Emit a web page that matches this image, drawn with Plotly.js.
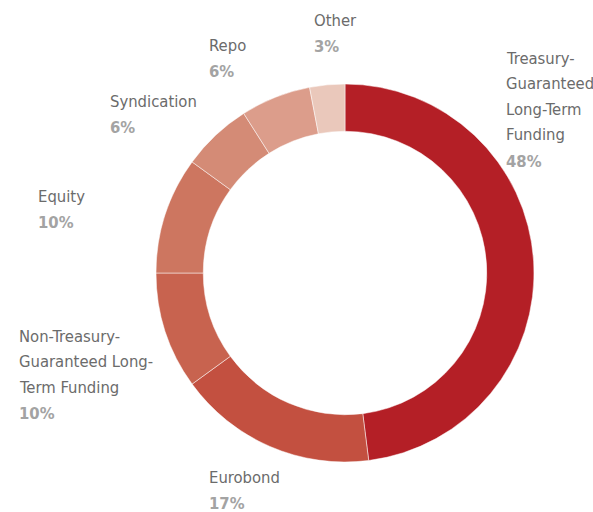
<!DOCTYPE html>
<html>
<head>
<meta charset="utf-8">
<script src="https://cdn.plot.ly/plotly-3.0.1.min.js"></script>
<style>
  html, body { margin: 0; padding: 0; background: #fff; }
  #chart { width: 593px; height: 512px; }
</style>
</head>
<body>
<div id="chart"></div>
<script>
let labels = [
    ["Treasury-", "Guaranteed", "Long-Term", "Funding"],
    ["Eurobond"],
    ["Non-Treasury-", "Guaranteed Long-", "Term Funding"],
    ["Equity"],
    ["Syndication"],
    ["Repo"],
    ["Other"]
];
let values = [48, 17, 10, 10, 6, 6, 3];
let colors = ["#b41f26", "#c35040", "#c8634f", "#cd7660", "#d48b76", "#dc9d8b", "#eac8bb"];

// label positions in pixels (left, centre of first line)
let labelPos = [[504, 58], [207, 477], [17, 336], [36, 196], [108, 101], [207, 45], [312, 20]];

let W = 593, H = 512;
let fnt = '"Liberation Sans Narrow", "DejaVu Sans Condensed", sans-serif';
let lineGap = 25.5, pctGap = 26.5;

let annots = [];
for (let i = 0; i < labels.length; i++) {
    let y = labelPos[i][1];
    let lines = labels[i];
    for (let k = 0; k <= lines.length; k++) {
        let isPct = k == lines.length;
        if (k > 0) y += isPct ? pctGap : lineGap;
        annots.push({
            xref: 'paper', yref: 'paper',
            x: labelPos[i][0] / W,
            y: 1 - y / H,
            xanchor: 'left', yanchor: 'middle', align: 'left',
            showarrow: false,
            text: isPct ? '<b>' + values[i] + '%</b>' : lines[k],
            font: { family: fnt, size: 16.5, color: isPct ? '#a3a3a3' : '#6b6b6b' }
        });
    }
}

let data = [{
    type: 'pie',
    labels: labels.map(l => l.join(' ')),
    values: values,
    sort: false,
    direction: 'clockwise',
    rotation: 0,
    hole: 0.75,
    textinfo: 'none',
    hoverinfo: 'none',
    marker: { colors: colors, line: { color: '#ffffff', width: 0.5 } },
    domain: { x: [(345 - 189) / W, (345 + 189) / W], y: [1 - (273 + 189) / H, 1 - (273 - 189) / H] }
}];

let layout = {
    width: W, height: H,
    margin: { l: 0, r: 0, t: 0, b: 0 },
    showlegend: false,
    paper_bgcolor: '#ffffff',
    annotations: annots
};

Plotly.newPlot('chart', data, layout, { displayModeBar: false, staticPlot: true });
</script>
</body>
</html>
